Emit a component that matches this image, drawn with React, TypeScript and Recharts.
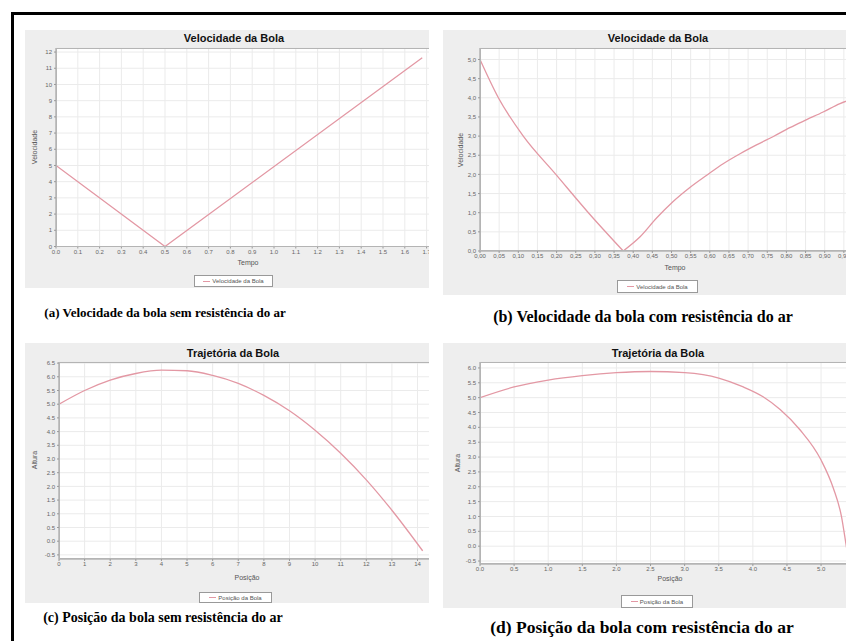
import React from 'react';
import { LineChart, Line, XAxis, YAxis, CartesianGrid } from 'recharts';

// (a) Velocidade sem resistência
const velA_t = [0, 0.5, 1.68];
const velA_v = [5.0, 0.0, 11.65];
const ticksA_x = [0, 0.1, 0.2, 0.3, 0.4, 0.5, 0.6, 0.7, 0.8, 0.9, 1.0, 1.1, 1.2, 1.3, 1.4, 1.5, 1.6, 1.7];
const ticksA_y = [0, 1, 2, 3, 4, 5, 6, 7, 8, 9, 10, 11, 12];

// (b) Velocidade com resistência: subida (velocidade decrescente) e descida
const velB_up_t = [0, 0.048, 0.113, 0.198, 0.283, 0.374];
const velB_up_v = [5.0, 4.0, 3.0, 2.0, 1.0, 0.0];
const velB_down_t = [0.374, 0.418, 0.461, 0.505, 0.548, 0.592, 0.635, 0.679, 0.722, 0.766, 0.809, 0.853, 0.896, 0.94, 0.97];
const velB_down_v = [0.0, 0.37, 0.86, 1.3, 1.66, 1.98, 2.28, 2.54, 2.77, 2.99, 3.22, 3.43, 3.63, 3.85, 3.96];
const ticksB_x = [0, 0.05, 0.1, 0.15, 0.2, 0.25, 0.3, 0.35, 0.4, 0.45, 0.5, 0.55, 0.6, 0.65, 0.7, 0.75, 0.8, 0.85, 0.9, 0.95, 1.0];
const ticksB_y = [0, 0.5, 1.0, 1.5, 2.0, 2.5, 3.0, 3.5, 4.0, 4.5, 5.0];

// (c) Trajetória sem resistência
const posC_x = [0, 1, 2, 3, 4, 5, 6, 7, 8, 9, 10, 11, 12, 13, 14.2];
const posC_y = [5.0, 5.5, 5.88, 6.12, 6.24, 6.22, 6.05, 5.76, 5.32, 4.76, 4.05, 3.21, 2.24, 1.13, -0.35];
const ticksC_x = [0, 1, 2, 3, 4, 5, 6, 7, 8, 9, 10, 11, 12, 13, 14];
const ticksC_y = [-0.5, 0, 0.5, 1.0, 1.5, 2.0, 2.5, 3.0, 3.5, 4.0, 4.5, 5.0, 5.5, 6.0, 6.5];

// (d) Trajetória com resistência
const posD_x = [0, 0.5, 1.0, 1.5, 2.0, 2.5, 3.0, 3.5, 3.85, 4.15, 4.4, 4.69, 5.0, 5.18, 5.3, 5.37, 5.42];
const posD_y = [5.0, 5.36, 5.59, 5.74, 5.84, 5.88, 5.84, 5.66, 5.37, 5.03, 4.6, 3.92, 2.9, 1.95, 0.99, 0.0, -0.7];
const ticksD_x = [0, 0.5, 1.0, 1.5, 2.0, 2.5, 3.0, 3.5, 4.0, 4.5, 5.0, 5.5];
const ticksD_y = [-0.5, 0, 0.5, 1.0, 1.5, 2.0, 2.5, 3.0, 3.5, 4.0, 4.5, 5.0, 5.5, 6.0];

const LINE = '#e398a4';
const SANS = '"Liberation Sans", Arial, sans-serif';
const SERIF = '"Liberation Serif", "Times New Roman", serif';

type Pt = { x: number; y: number };
const zip = (xs: number[], ys: number[]): Pt[] => xs.map((x, i) => ({ x, y: ys[i] }));

type Rect = { left: number; top: number; right: number; bottom: number };

const YW = 30;
const MT = 4;
const XH = 22;

function Plot(props: {
  series: { data: Pt[]; curve: 'linear' | 'monotone' }[];
  rect: Rect;
  xDomain: [number, number];
  yDomain: [number, number];
  xTicks: number[];
  yTicks: number[];
  fx: (v: number) => string;
  fy: (v: number) => string;
}) {
  const { series, rect, xDomain, yDomain, xTicks, yTicks, fx, fy } = props;
  const w = rect.right - rect.left + YW;
  const h = rect.bottom - rect.top + MT + XH;
  const tick = { fontSize: 6, fill: '#666', fontFamily: SANS };
  return (
    <>
      <div style={{ position: 'absolute', left: rect.left - YW, top: rect.top - MT }}>
        <LineChart width={w} height={h} margin={{ top: MT, right: 0, bottom: 0, left: 0 }}>
          <CartesianGrid stroke="#ebebeb" fill="#ffffff" />
          <XAxis
            dataKey="x"
            type="number"
            domain={xDomain}
            ticks={xTicks}
            interval={0}
            allowDataOverflow
            height={XH}
            tick={tick}
            tickFormatter={fx}
            tickSize={2}
            tickMargin={1}
            stroke="#999"
          />
          <YAxis
            type="number"
            domain={yDomain}
            ticks={yTicks}
            interval={0}
            allowDataOverflow
            width={YW}
            tick={tick}
            tickFormatter={fy}
            tickSize={2}
            tickMargin={2}
            stroke="#999"
          />
          {series.map((s, i) => (
            <Line
              key={i}
              data={s.data}
              type={s.curve}
              dataKey="y"
              stroke={LINE}
              strokeWidth={1.3}
              dot={false}
              isAnimationActive={false}
            />
          ))}
        </LineChart>
      </div>
      <div
        style={{
          position: 'absolute',
          left: rect.left,
          top: rect.top,
          width: rect.right - rect.left,
          height: rect.bottom - rect.top,
          border: '1px solid #b4b4b4',
          boxSizing: 'border-box',
          pointerEvents: 'none',
        }}
      />
    </>
  );
}

function Panel(props: {
  left: number;
  top: number;
  width: number;
  height: number;
  title: string;
  titleAt: [number, number];
  yLabel: string;
  yLabelAt: [number, number];
  xLabel: string;
  xLabelAt: [number, number];
  legend: string;
  legendBox: [number, number, number, number];
  children: React.ReactNode;
}) {
  const p = props;
  return (
    <div
      style={{
        position: 'absolute',
        left: p.left,
        top: p.top,
        width: p.width,
        height: p.height,
        background: '#eeeeee',
        overflow: 'hidden',
      }}
    >
      <div
        style={{
          position: 'absolute',
          left: p.titleAt[0] - 150,
          top: p.titleAt[1] - 7,
          width: 300,
          textAlign: 'center',
          fontFamily: SANS,
          fontWeight: 'bold',
          fontSize: 11,
          lineHeight: '14px',
          color: '#111',
        }}
      >
        {p.title}
      </div>
      {p.children}
      <div
        style={{
          position: 'absolute',
          left: p.yLabelAt[0] - 40,
          top: p.yLabelAt[1] - 5,
          width: 80,
          textAlign: 'center',
          fontFamily: SANS,
          fontSize: 7,
          lineHeight: '10px',
          color: '#555',
          transform: 'rotate(-90deg)',
        }}
      >
        {p.yLabel}
      </div>
      <div
        style={{
          position: 'absolute',
          left: p.xLabelAt[0] - 40,
          top: p.xLabelAt[1] - 5,
          width: 80,
          textAlign: 'center',
          fontFamily: SANS,
          fontSize: 7,
          lineHeight: '10px',
          color: '#555',
        }}
      >
        {p.xLabel}
      </div>
      <div
        style={{
          position: 'absolute',
          left: p.legendBox[0],
          top: p.legendBox[1],
          width: p.legendBox[2],
          height: p.legendBox[3],
          background: '#ffffff',
          border: '1px solid #999',
          boxSizing: 'border-box',
          display: 'flex',
          alignItems: 'center',
          justifyContent: 'center',
          fontFamily: SANS,
          fontSize: 6,
          color: '#555',
          whiteSpace: 'nowrap',
        }}
      >
        <span style={{ display: 'inline-block', width: 7, height: 1, background: LINE, marginRight: 2 }} />
        {p.legend}
      </div>
    </div>
  );
}

function Caption(props: { text: string; cx: number; cy: number; size: number }) {
  return (
    <div
      style={{
        position: 'absolute',
        left: props.cx - 200,
        top: props.cy - 10,
        width: 400,
        height: 20,
        lineHeight: '20px',
        textAlign: 'center',
        fontFamily: SERIF,
        fontWeight: 'bold',
        fontSize: props.size,
        color: '#000',
        whiteSpace: 'nowrap',
      }}
    >
      {props.text}
    </div>
  );
}

const f1 = (v: number) => v.toFixed(1);
const f0 = (v: number) => v.toFixed(0);
const c2 = (v: number) => v.toFixed(2).replace('.', ',');
const c1 = (v: number) => v.toFixed(1).replace('.', ',');

export default function App() {
  return (
    <div
      style={{
        position: 'absolute',
        left: 0,
        top: 0,
        width: 846,
        height: 641,
        background: '#ffffff',
        overflow: 'hidden',
      }}
    >
      <div
        style={{
          position: 'absolute',
          left: 11,
          top: 12,
          width: 1000,
          height: 1000,
          borderTop: '3px solid #000',
          borderLeft: '3px solid #000',
        }}
      />

      <Panel
        left={25}
        top={30}
        width={404}
        height={258}
        title="Velocidade da Bola"
        titleAt={[209, 8]}
        yLabel="Velocidade"
        yLabelAt={[10, 117]}
        xLabel="Tempo"
        xLabelAt={[223, 233]}
        legend="Velocidade da Bola"
        legendBox={[169, 245, 79, 12]}
      >
        <Plot
          series={[{ data: zip(velA_t, velA_v), curve: 'linear' }]}
          rect={{ left: 31, top: 18, right: 412.5, bottom: 216.5 }}
          xDomain={[0, 1.75]}
          yDomain={[0, 12.25]}
          xTicks={ticksA_x}
          yTicks={ticksA_y}
          fx={f1}
          fy={f0}
        />
      </Panel>

      <Panel
        left={443}
        top={30}
        width={440}
        height={265}
        title="Velocidade da Bola"
        titleAt={[215, 8]}
        yLabel="Velocidade"
        yLabelAt={[18, 120]}
        xLabel="Tempo"
        xLabelAt={[232, 238]}
        legend="Velocidade da Bola"
        legendBox={[174, 250, 81, 13]}
      >
        <Plot
          series={[
            { data: zip(velB_up_t, velB_up_v), curve: 'monotone' },
            { data: zip(velB_down_t, velB_down_v), curve: 'monotone' },
          ]}
          rect={{ left: 37, top: 18, right: 420, bottom: 221 }}
          xDomain={[0, 1.0]}
          yDomain={[0, 5.3]}
          xTicks={ticksB_x}
          yTicks={ticksB_y}
          fx={c2}
          fy={c1}
        />
      </Panel>

      <Panel
        left={25}
        top={343}
        width={404}
        height={260}
        title="Trajetória da Bola"
        titleAt={[208, 10]}
        yLabel="Altura"
        yLabelAt={[10, 117]}
        xLabel="Posição"
        xLabelAt={[222, 235]}
        legend="Posição da Bola"
        legendBox={[174, 249, 73, 11]}
      >
        <Plot
          series={[{ data: zip(posC_x, posC_y), curve: 'monotone' }]}
          rect={{ left: 34, top: 19, right: 413, bottom: 216 }}
          xDomain={[0, 14.8]}
          yDomain={[-0.65, 6.54]}
          xTicks={ticksC_x}
          yTicks={ticksC_y}
          fx={f0}
          fy={f1}
        />
      </Panel>

      <Panel
        left={443}
        top={343}
        width={440}
        height={265}
        title="Trajetória da Bola"
        titleAt={[215, 10]}
        yLabel="Altura"
        yLabelAt={[15, 120]}
        xLabel="Posição"
        xLabelAt={[227, 236]}
        legend="Posição da Bola"
        legendBox={[178, 252, 72, 13]}
      >
        <Plot
          series={[{ data: zip(posD_x, posD_y), curve: 'monotone' }]}
          rect={{ left: 37, top: 19, right: 419, bottom: 221 }}
          xDomain={[0, 5.6]}
          yDomain={[-0.6, 6.2]}
          xTicks={ticksD_x}
          yTicks={ticksD_y}
          fx={f1}
          fy={f1}
        />
      </Panel>

      <Caption text="(a) Velocidade da bola sem resistência do ar" cx={165} cy={313} size={13} />
      <Caption text="(b) Velocidade da bola com resistência do ar" cx={643} cy={317} size={16} />
      <Caption text="(c) Posição da bola sem resistência do ar" cx={163} cy={618} size={14} />
      <Caption text="(d) Posição da bola com resistência do ar" cx={642} cy={627} size={17.5} />
    </div>
  );
}
